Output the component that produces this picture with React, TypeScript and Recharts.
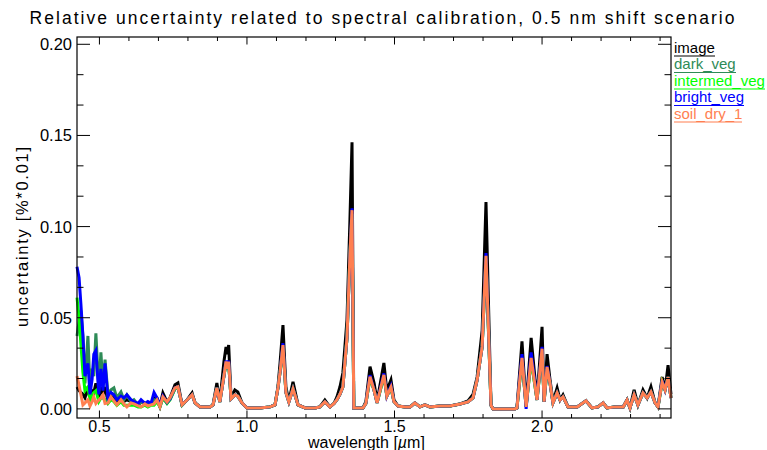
import { LineChart, Line, XAxis, YAxis } from 'recharts'

// plot box in page pixels (IDL-style framed plot)
const W = 767
const H = 450
const BOX = { left: 77, right: 671, top: 37, bottom: 418 }
const FONT = '"Liberation Sans", Arial, sans-serif'

// wavelength [µm]
const wavelength = [
  0.424, 0.431, 0.437, 0.444, 0.451, 0.461, 0.468, 0.475, 0.481, 0.488,
  0.498, 0.505, 0.512, 0.519, 0.529, 0.539, 0.549, 0.559, 0.573, 0.583,
  0.593, 0.607, 0.617, 0.631, 0.641, 0.654, 0.664, 0.675, 0.685, 0.695,
  0.705, 0.715, 0.729, 0.739, 0.756, 0.766, 0.780, 0.797, 0.814, 0.824,
  0.841, 0.875, 0.885, 0.898, 0.908, 0.922, 0.929, 0.933, 0.938, 0.946,
  0.959, 0.969, 0.983, 1.000, 1.044, 1.078, 1.095, 1.105, 1.112, 1.122,
  1.132, 1.142, 1.156, 1.173, 1.197, 1.231, 1.247, 1.264, 1.281, 1.295,
  1.305, 1.315, 1.325, 1.339, 1.349, 1.356, 1.362, 1.393, 1.403, 1.417,
  1.431, 1.441, 1.464, 1.474, 1.488, 1.498, 1.512, 1.536, 1.553, 1.569,
  1.586, 1.603, 1.620, 1.654, 1.688, 1.722, 1.749, 1.766, 1.780, 1.797,
  1.810, 1.827, 1.834, 1.908, 1.915, 1.932, 1.946, 1.963, 1.983, 2.000,
  2.007, 2.017, 2.027, 2.037, 2.051, 2.061, 2.071, 2.088, 2.119, 2.149,
  2.169, 2.190, 2.207, 2.220, 2.247, 2.275, 2.288, 2.298, 2.312, 2.325,
  2.342, 2.356, 2.369, 2.383, 2.393, 2.407, 2.417, 2.427, 2.437,
]

const image = [
  0.012, 0.010, 0.009, 0.008, 0.006, 0.012, 0.005, 0.010, 0.009, 0.014,
  0.006, 0.012, 0.008, 0.012, 0.004, 0.007, 0.006, 0.003, 0.006, 0.004,
  0.005, 0.004, 0.004, 0.002, 0.004, 0.003, 0.003, 0.003, 0.006, 0.006,
  0.0016, 0.0088, 0.0038, 0.006, 0.0132, 0.0142, 0.0022, 0.0049, 0.0088, 0.0033,
  0.0011, 0.0011, 0.0022, 0.0142, 0.0038, 0.026, 0.034, 0.030, 0.035, 0.006,
  0.0104, 0.0093, 0.0033, 0.0005, 0.0005, 0.0011, 0.0022, 0.0121, 0.025, 0.046,
  0.012, 0.004, 0.0148, 0.0022, 0.0005, 0.0005, 0.0011, 0.0049, 0.0011, 0.003,
  0.0066, 0.012, 0.0197, 0.049, 0.104, 0.1463, 0.0005, 0.0005, 0.004, 0.0232,
  0.014, 0.004, 0.0252, 0.010, 0.0159, 0.005, 0.0016, 0.0011, 0.0011, 0.0033,
  0.0011, 0.0022, 0.0011, 0.0016, 0.0016, 0.0027, 0.0044, 0.008, 0.0175, 0.043,
  0.1134, 0.002, 0, 0, 0.0005, 0.037, 0.0011, 0.039, 0.005, 0.045,
  0.004, 0.030, 0.016, 0.004, 0.0115, 0.0049, 0.0077, 0.0011, 0.0011, 0.0044,
  0.0005, 0.0011, 0.0033, 0.0005, 0.0011, 0.0011, 0.0049, 0.0005, 0.0104, 0.0022,
  0.0104, 0.006, 0.0121, 0.0033, 0.0011, 0.0175, 0.0104, 0.024, 0.008,
]

const darkVeg = [
  0.040, 0.048, 0.054, 0.040, 0.014, 0.040, 0.012, 0.022, 0.018, 0.0415,
  0.010, 0.031, 0.012, 0.027, 0.008, 0.0104, 0.0115, 0.006, 0.0093, 0.005,
  0.0077, 0.004, 0.005, 0.002, 0.004, 0.003, 0.003, 0.003, 0.005, 0.005,
  0.001, 0.006, 0.003, 0.005, 0.011, 0.012, 0.002, 0.0049, 0.0077, 0.0033,
  0.0011, 0.0011, 0.0022, 0.0115, 0.0038, 0.018, 0.025, 0.022, 0.025, 0.0055,
  0.0077, 0.007, 0.0033, 0.0005, 0.0005, 0.0011, 0.0022, 0.0115, 0.020, 0.034,
  0.009, 0.0038, 0.011, 0.0022, 0.0005, 0.0005, 0.0011, 0.0038, 0.0011, 0.003,
  0.005, 0.008, 0.012, 0.039, 0.085, 0.105, 0.0005, 0.0005, 0.003, 0.017,
  0.010, 0.0033, 0.018, 0.007, 0.0115, 0.004, 0.0016, 0.0011, 0.0011, 0.0033,
  0.0011, 0.0022, 0.0011, 0.0016, 0.0016, 0.0027, 0.0038, 0.006, 0.0159, 0.034,
  0.082, 0.002, 0, 0, 0.0005, 0.027, 0.0011, 0.027, 0.0049, 0.032,
  0.004, 0.022, 0.014, 0.0033, 0.0088, 0.0049, 0.0066, 0.0011, 0.0011, 0.0044,
  0.0005, 0.0011, 0.0033, 0.0005, 0.0011, 0.0011, 0.0049, 0.0005, 0.0077, 0.0022,
  0.0088, 0.006, 0.0093, 0.0033, 0.0011, 0.0148, 0.0104, 0.0175, 0.006,
]

const intermedVeg = [
  0.061, 0.050, 0.036, 0.020, 0.010, 0.012, 0.005, 0.008, 0.009, 0.010,
  0.004, 0.006, 0.006, 0.005, 0.003, 0.005, 0.004, 0.002, 0.004, 0.002,
  0.002, 0.002, 0.002, 0.001, 0.001, 0.002, 0.001, 0.002, 0.002, 0.004,
  0.001, 0.006, 0.003, 0.005, 0.011, 0.012, 0.002, 0.0049, 0.0077, 0.0033,
  0.0011, 0.0011, 0.0022, 0.0115, 0.0038, 0.018, 0.025, 0.022, 0.025, 0.0055,
  0.0077, 0.007, 0.0033, 0.0005, 0.0005, 0.0011, 0.0022, 0.0115, 0.020, 0.034,
  0.009, 0.0038, 0.011, 0.0022, 0.0005, 0.0005, 0.0011, 0.0038, 0.0011, 0.003,
  0.005, 0.008, 0.012, 0.039, 0.085, 0.107, 0.0005, 0.0005, 0.003, 0.017,
  0.010, 0.0033, 0.018, 0.007, 0.0115, 0.004, 0.0016, 0.0011, 0.0011, 0.0033,
  0.0011, 0.0022, 0.0011, 0.0016, 0.0016, 0.0027, 0.0038, 0.006, 0.0159, 0.034,
  0.083, 0.002, 0, 0, 0.0005, 0.027, 0.0011, 0.027, 0.0049, 0.032,
  0.004, 0.022, 0.014, 0.0033, 0.0088, 0.0049, 0.0066, 0.0011, 0.0011, 0.0044,
  0.0005, 0.0011, 0.0033, 0.0005, 0.0011, 0.0011, 0.0049, 0.0005, 0.0077, 0.0022,
  0.0088, 0.006, 0.0093, 0.0033, 0.0011, 0.0148, 0.0104, 0.0175, 0.006,
]

const brightVeg = [
  0.078, 0.072, 0.058, 0.040, 0.018, 0.025, 0.008, 0.016, 0.030, 0.032,
  0.008, 0.022, 0.010, 0.025, 0.006, 0.009, 0.0077, 0.005, 0.007, 0.006,
  0.0077, 0.005, 0.004, 0.003, 0.005, 0.003, 0.004, 0.003, 0.009, 0.006,
  0.0016, 0.007, 0.0035, 0.0055, 0.0115, 0.0121, 0.0022, 0.0049, 0.0077, 0.0033,
  0.0011, 0.0011, 0.0022, 0.0115, 0.0038, 0.018, 0.0265, 0.022, 0.0265, 0.0055,
  0.0077, 0.007, 0.0033, 0.0005, 0.0005, 0.0011, 0.0022, 0.0115, 0.020, 0.036,
  0.009, 0.0038, 0.011, 0.0022, 0.0005, 0.0005, 0.0011, 0.0038, 0.0011, 0.003,
  0.005, 0.008, 0.012, 0.039, 0.085, 0.110, 0.0005, 0.0005, 0.003, 0.0185,
  0.010, 0.0033, 0.0195, 0.007, 0.0125, 0.004, 0.0016, 0.0011, 0.0011, 0.0033,
  0.0011, 0.0022, 0.0011, 0.0016, 0.0016, 0.0027, 0.0038, 0.006, 0.0159, 0.034,
  0.0855, 0.002, 0, 0, 0.0005, 0.030, 0, 0.031, 0.0049, 0.034,
  0.004, 0.0235, 0.014, 0.0033, 0.0088, 0.0049, 0.0066, 0.0011, 0.0011, 0.0044,
  0.0005, 0.0011, 0.0033, 0.0005, 0.0011, 0.0011, 0.0049, 0.0005, 0.0077, 0.0022,
  0.0088, 0.006, 0.0093, 0.0033, 0.0011, 0.0155, 0.0104, 0.0175, 0.006,
]

const soilDry1 = [
  0.018, 0.013, 0.008, 0.0022, 0.0033, 0.005, 0.0016, 0.004, 0.0066, 0.003,
  0.0049, 0.006, 0.0077, 0.003, 0.0033, 0.0066, 0.0044, 0.0022, 0.005, 0.0027,
  0.0011, 0.0033, 0.0027, 0.0016, 0.0011, 0.0027, 0.0016, 0.0022, 0.0027, 0.0049,
  0.0011, 0.0066, 0.0038, 0.006, 0.0115, 0.0121, 0.0022, 0.0049, 0.0077, 0.0033,
  0.0011, 0.0011, 0.0022, 0.0115, 0.0038, 0.018, 0.026, 0.022, 0.026, 0.0055,
  0.0077, 0.007, 0.0033, 0.0005, 0.0005, 0.0011, 0.0022, 0.0115, 0.020, 0.035,
  0.009, 0.0038, 0.011, 0.0022, 0.0005, 0.0005, 0.0011, 0.0038, 0.0011, 0.003,
  0.005, 0.008, 0.012, 0.039, 0.085, 0.109, 0.0005, 0.0005, 0.003, 0.0177,
  0.010, 0.0033, 0.0186, 0.007, 0.012, 0.004, 0.0016, 0.0011, 0.0011, 0.0033,
  0.0011, 0.0022, 0.0011, 0.0016, 0.0016, 0.0027, 0.0038, 0.006, 0.0159, 0.034,
  0.084, 0.002, 0, 0, 0.0005, 0.028, 0.0011, 0.028, 0.0049, 0.033,
  0.004, 0.023, 0.014, 0.0033, 0.0088, 0.0049, 0.0066, 0.0011, 0.0011, 0.0044,
  0.0005, 0.0011, 0.0033, 0.0005, 0.0011, 0.0011, 0.0049, 0.0005, 0.0077, 0.0022,
  0.0088, 0.006, 0.0093, 0.0033, 0.0011, 0.0148, 0.0104, 0.0175, 0.006,
]

// axis ticks
const xTicks = [
  0.5, 0.6, 0.7, 0.8, 0.9, 1.0, 1.1, 1.2, 1.3, 1.4, 1.5,
  1.6, 1.7, 1.8, 1.9, 2.0, 2.1, 2.2, 2.3, 2.4,
]
const xMajor = [0.5, 1.0, 1.5, 2.0]
const yTicks = [
  0, 0.01667, 0.03333, 0.05, 0.06667, 0.08333, 0.1,
  0.11667, 0.13333, 0.15, 0.16667, 0.18333, 0.2,
]
const yMajor = [0, 0.05, 0.1, 0.15, 0.2]

const series = [
  { key: 'image', label: 'image', color: '#000000' },
  { key: 'darkVeg', label: 'dark_veg', color: '#2e8b57' },
  { key: 'intermedVeg', label: 'intermed_veg', color: '#00ff00' },
  { key: 'brightVeg', label: 'bright_veg', color: '#0000ff' },
  { key: 'soilDry1', label: 'soil_dry_1', color: '#ff7f50' },
]

const rows = wavelength.map((w, i) => ({
  w,
  image: image[i],
  darkVeg: darkVeg[i],
  intermedVeg: intermedVeg[i],
  brightVeg: brightVeg[i],
  soilDry1: soilDry1[i],
}))

const isMajor = (list: number[], v: number) => list.some((m) => Math.abs(m - v) < 1e-6)

// ticks point inward, drawn on both bottom and top of the box
function XTick({ x, payload }: any) {
  const major = isMajor(xMajor, payload.value)
  const len = major ? 7.5 : 4
  return (
    <g>
      <line x1={x} x2={x} y1={BOX.bottom} y2={BOX.bottom - len} stroke="#000" />
      <line x1={x} x2={x} y1={BOX.top} y2={BOX.top + len} stroke="#000" />
      {major && (
        <text x={x} y={432} textAnchor="middle" fontSize={16} fontFamily={FONT} fill="#000">
          {payload.value.toFixed(1)}
        </text>
      )}
    </g>
  )
}

// ticks on left and right of the box
function YTick({ y, payload }: any) {
  const major = isMajor(yMajor, payload.value)
  const len = major ? 13 : 6.5
  return (
    <g>
      <line x1={BOX.left} x2={BOX.left + len} y1={y} y2={y} stroke="#000" />
      <line x1={BOX.right} x2={BOX.right - len} y1={y} y2={y} stroke="#000" />
      {major && (
        <text x={72} y={y} dy="0.36em" textAnchor="end" fontSize={16.5} fontFamily={FONT} fill="#000">
          {payload.value.toFixed(2)}
        </text>
      )}
    </g>
  )
}

const legendWidths = [41, 62, 91, 70, 68]

export default function App() {
  return (
    <div style={{ position: 'absolute', left: 0, top: 0, width: W, height: H, background: '#fff' }}>
      <LineChart
        width={W}
        height={H}
        data={rows}
        margin={{ top: BOX.top, right: W - BOX.right, bottom: 0, left: 0 }}
      >
        <XAxis
          dataKey="w"
          type="number"
          domain={[0.424, 2.437]}
          ticks={xTicks}
          interval={0}
          tick={XTick}
          tickLine={false}
          axisLine={false}
          height={H - BOX.bottom}
        />
        <YAxis
          type="number"
          domain={[-0.005, 0.204]}
          ticks={yTicks}
          interval={0}
          tick={YTick}
          tickLine={false}
          axisLine={false}
          width={BOX.left}
        />
        {series.map((s) => (
          <Line
            key={s.key}
            type="linear"
            dataKey={s.key}
            stroke={s.color}
            strokeWidth={3}
            dot={false}
            activeDot={false}
            isAnimationActive={false}
          />
        ))}
      </LineChart>

      <svg
        width={W}
        height={H}
        style={{ position: 'absolute', left: 0, top: 0, pointerEvents: 'none' }}
        fontFamily={FONT}
      >
        <rect
          x={BOX.left}
          y={BOX.top}
          width={BOX.right - BOX.left}
          height={BOX.bottom - BOX.top}
          fill="none"
          stroke="#000"
          strokeWidth={1.2}
        />
        <text x={382} y={24} textAnchor="middle" fontSize={17.5} textLength={705} lengthAdjust="spacing">
          Relative uncertainty related to spectral calibration, 0.5 nm shift scenario
        </text>
        <text x={308} y={448} fontSize={16}>
          wavelength [<tspan fontStyle="italic">µ</tspan>m]
        </text>
        <text
          transform="translate(28,237) rotate(-90)"
          textAnchor="middle"
          fontSize={16.5}
          textLength={180}
          lengthAdjust="spacing"
        >
          uncertainty [%*0.01]
        </text>
        {series.map((s, i) => {
          const base = 52.5 + i * 16.5
          return (
            <g key={s.key}>
              <text x={674} y={base} fontSize={15} fill={s.color}>
                {s.label}
              </text>
              <line x1={674} x2={674 + legendWidths[i]} y1={base + 3.5} y2={base + 3.5} stroke={s.color} strokeWidth={1.2} />
            </g>
          )
        })}
      </svg>
    </div>
  )
}
